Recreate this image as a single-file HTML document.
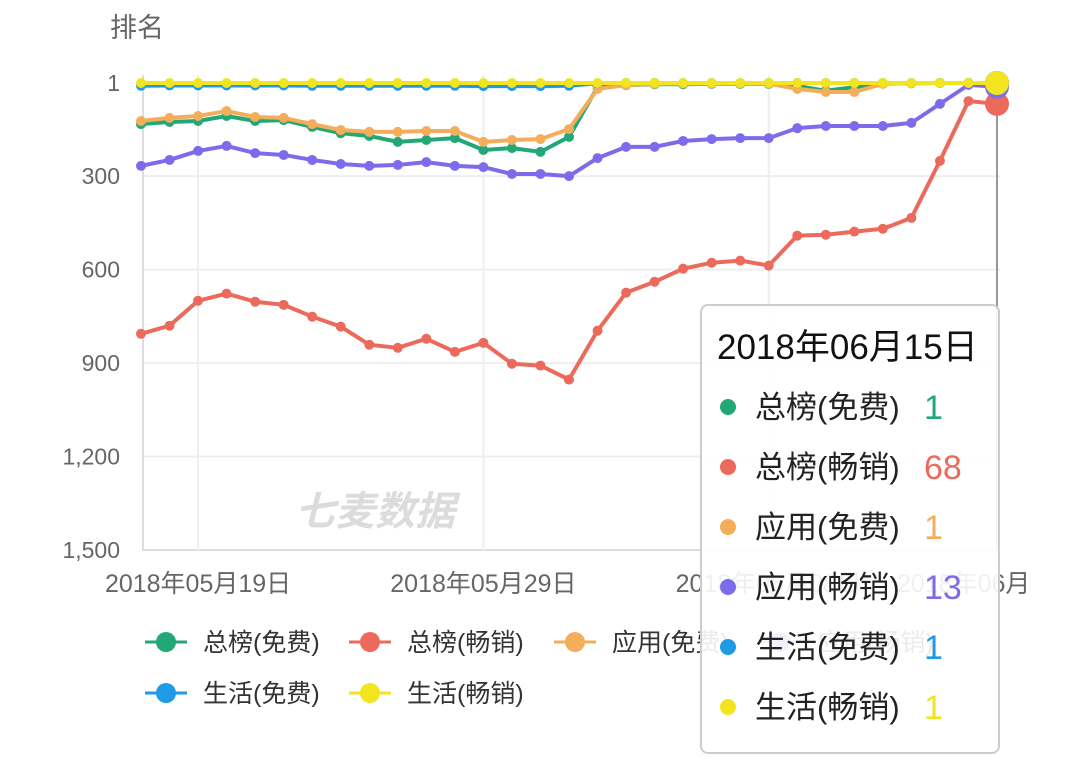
<!DOCTYPE html>
<html><head><meta charset="utf-8"><style>
body{margin:0;background:#fff;}
svg{display:block;font-family:"Liberation Sans","Noto Sans CJK SC",sans-serif;}
</style></head><body>
<svg id="chart" width="1080" height="776" viewBox="0 0 1080 776" xmlns="http://www.w3.org/2000/svg">
<rect width="1080" height="776" fill="#fff"/>
<text x="110" y="37" font-size="27" fill="#666">排名</text>
<g id="grid"></g>
<text x="295" y="525" font-size="40" fill="#dcdcdc" font-style="italic" font-weight="bold">七麦数据</text>
<g id="series"></g>
<g id="legend"></g>
<g id="tooltip"></g>
</svg>
<script>
const NS="http://www.w3.org/2000/svg";
const categories=["05/17","05/18","05/19","05/20","05/21","05/22","05/23","05/24","05/25","05/26","05/27","05/28","05/29","05/30","05/31","06/01","06/02","06/03","06/04","06/05","06/06","06/07","06/08","06/09","06/10","06/11","06/12","06/13","06/14","06/15","06/16"];
const yTicks=[1,300,600,900,1200,1500];
const yTickLabels=["1","300","600","900","1,200","1,500"];
const xLabelIdx=[2,12,22,30];
const xLabels=["2018年05月19日","2018年05月29日","2018年06月08日","2018年06月18日"];
const seriesNames=["总榜(免费)","总榜(畅销)","应用(免费)","应用(畅销)","生活(免费)","生活(畅销)"];
const zongFree=[133,126,123,107,123,120,142,162,171,190,184,178,216,210,222,174,14,8,5,5,4,4,4,10,26,14,3,2,1,1,1];
const zongPaid=[806,780,700,677,703,713,751,783,841,851,822,864,835,902,908,953,796,674,639,597,578,571,587,491,488,478,469,434,251,59,68];
const appFree=[123,113,107,91,110,113,133,152,158,158,155,155,190,184,181,149,20,8,4,3,3,3,3,20,30,30,4,2,1,1,1];
const appPaid=[267,248,219,203,226,232,248,261,267,264,255,267,271,293,293,300,242,206,206,187,181,178,178,146,139,139,139,129,68,7,13];
const lifeFree=[10,9,9,9,9,9,10,10,10,10,10,10,11,11,11,10,2,1,1,1,1,1,1,1,1,1,1,1,1,1,1];
const lifePaid=[1,1,1,1,1,1,1,1,1,1,1,1,1,1,1,1,1,1,1,1,1,1,1,1,1,1,1,1,1,1,1];
const colors=["#22a877","#ec6a5c","#f3ae5c","#7c6cec","#1e9ae6","#f2e41e"];
const allSeries=[zongFree,zongPaid,appFree,appPaid,lifeFree,lifePaid];
const X0=141,X1=997,Y0=83,Y1=550;
function xs(i){return X0+i*(X1-X0)/(categories.length-1);}
function ys(v){return Y0+(v-1)*(Y1-Y0)/1499;}
function mk(tag,attrs,parent){const e=document.createElementNS(NS,tag);for(const k in attrs)e.setAttribute(k,attrs[k]);parent.appendChild(e);return e;}
const svgEl=document.getElementById('chart');
const defs=mk('defs',{},svgEl);
const cp=mk('clipPath',{id:'clipx'},defs);mk('rect',{x:0,y:0,width:1026,height:776},cp);
const grid=document.getElementById('grid');
yTicks.forEach((t,i)=>{
  const l=mk('line',{x1:143,x2:1000,y1:ys(t),y2:ys(t),stroke:i==yTicks.length-1?'#ddd':'#eee','stroke-width':2},grid);
  
  
  const tx=mk('text',{x:120,y:ys(t)+8,'text-anchor':'end','font-size':23,fill:'#666'},grid);
  tx.textContent=yTickLabels[i];
  
  
});
const ax=mk('line',{x1:143,x2:143,y1:75,y2:551,stroke:'#ddd','stroke-width':2},grid);


xLabelIdx.forEach((idx,i)=>{
  const x=xs(idx);
  const l=mk('line',{x1:x,x2:x,y1:75,y2:550,stroke:'#eee','stroke-width':2},grid);
  
  
  const tx=mk('text',{x:i==3?897:x,y:592,'text-anchor':i==3?'start':'middle','font-size':25,fill:'#666'},grid);
  tx.textContent=xLabels[i];
  
  
  if(i==3){tx.setAttribute('clip-path','url(#clipx)');}
});
const ptr=mk('line',{x1:997,x2:997,y1:83,y2:550,stroke:'#999','stroke-width':2},grid);


const sg=document.getElementById('series');
allSeries.forEach((data,s)=>{
  const g=mk('g',{},sg);
  
  
  const pts=data.map((v,i)=>xs(i)+','+ys(v)).join(' ');
  const pl=mk('polyline',{points:pts,fill:'none',stroke:colors[s],'stroke-width':4,'stroke-linejoin':'round'},g);
  
  
  data.forEach((v,i)=>{
    const last=i==data.length-1;
    const c=mk('circle',{cx:xs(i),cy:ys(v),r:last?12:5,fill:colors[s]},g);
    
    
  });
});
const lg=document.getElementById('legend');
const lpos=[[166,642],[370,642],[575,642],[780,642],[166,693],[370,693]];
seriesNames.forEach((n,s)=>{
  const [cx,cy]=lpos[s];
  const g=mk('g',{},lg);
  
  
  mk('line',{x1:cx-21,x2:cx+21,y1:cy,y2:cy,stroke:colors[s],'stroke-width':3},g);
  mk('circle',{cx:cx,cy:cy,r:10,fill:colors[s]},g);
  const t=mk('text',{x:cx+37,y:cy+9,'font-size':25,fill:'#333'},g);
  t.textContent=n;
});
const tt=document.getElementById('tooltip');
mk('rect',{x:701,y:305,width:298,height:448,rx:7,fill:'rgba(255,255,255,0.9)',stroke:'#ccc','stroke-width':2},tt);
const title=mk('text',{x:717,y:359,'font-size':35,fill:'#111'},tt);
title.textContent='2018年06月15日';


seriesNames.forEach((n,s)=>{
  const y=407+s*60;
  const row=mk('g',{},tt);
  
  
  mk('circle',{cx:728,cy:y,r:8,fill:colors[s]},row);
  const t=mk('text',{x:755,y:y+11,'font-size':31,fill:'#222'},row);t.textContent=n;
  const v=mk('text',{x:924,y:y+12,'font-size':34,fill:colors[s]},row);v.textContent=String(allSeries[s][allSeries[s].length-1]);
});
</script>
</body></html>
